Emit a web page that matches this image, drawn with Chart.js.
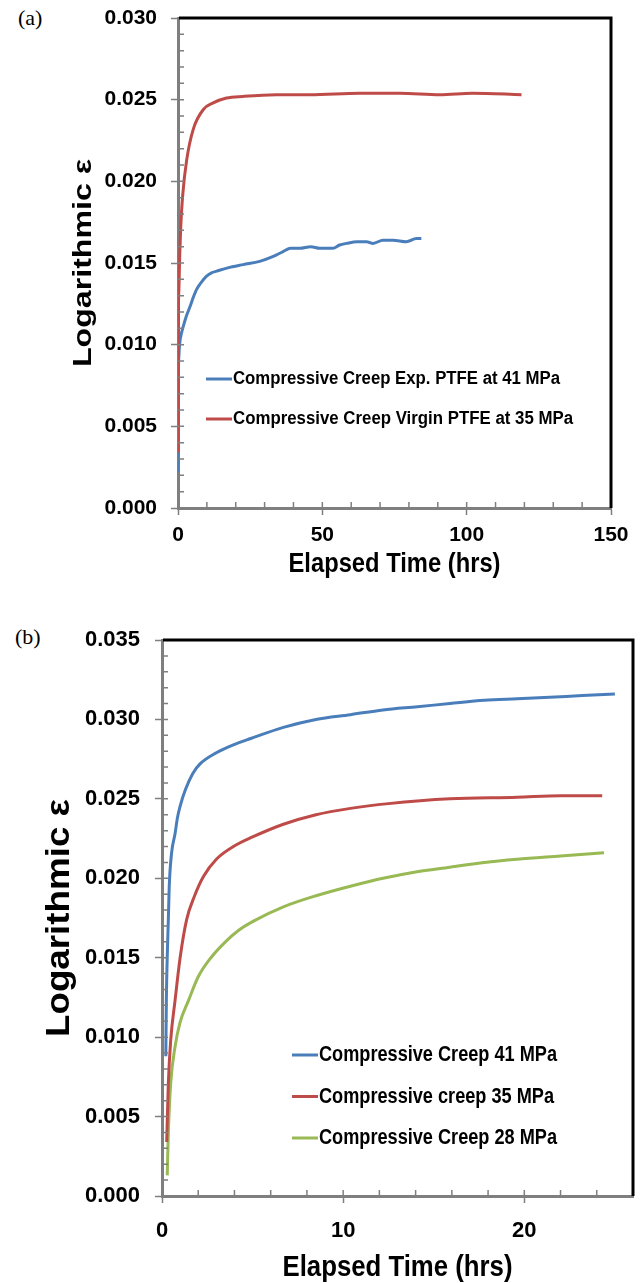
<!DOCTYPE html>
<html>
<head>
<meta charset="utf-8">
<script src="https://cdn.jsdelivr.net/npm/chart.js@4.4.1/dist/chart.umd.min.js"></script>
<style>
  body { margin: 0; background: #fff; }
  #wrap { position: relative; width: 640px; height: 1283px; }
  canvas { position: absolute; left: 0; }
  .tag { position: absolute; font-family: "Liberation Serif", "Times New Roman", serif; font-size: 22px; line-height: 22px; color: #000; }
</style>
</head>
<body>
<div id="wrap">
  <div class="tag" style="left:18px; top:7px;">(a)</div>
  <div class="tag" style="left:15px; top:626px;">(b)</div>
  <canvas id="chartA" width="640" height="600" style="top:0;"></canvas>
  <canvas id="chartB" width="640" height="683" style="top:600px;"></canvas>
</div>
<script>
// (a) exp PTFE 41 MPa vs virgin PTFE 35 MPa
const timeExp = [0, 0.05, 0.12, 0.3, 0.6, 1.2, 1.8, 3, 4.1, 5.3, 6.5, 8, 9.9, 11.6, 13.4, 17.2, 22.6, 28.3, 33, 36.4, 39, 42.2, 46, 49.1, 53.7, 56, 58.4, 62, 65.3, 67.6, 71, 74.5, 79.1, 82.6, 84.3];
const strainExp = [0.0022, 0.0050, 0.0080, 0.0093, 0.0101, 0.0107, 0.0111, 0.0118, 0.0123, 0.0129, 0.0134, 0.0138, 0.0142, 0.0144, 0.0145, 0.0147, 0.0149, 0.0151, 0.0154, 0.0157, 0.0159, 0.0159, 0.0160, 0.0159, 0.0159, 0.0161, 0.0162, 0.0163, 0.0163, 0.0162, 0.0164, 0.0164, 0.0163, 0.0165, 0.0165];
const timeVirgin = [0.05, 0.08, 0.12, 0.3, 0.6, 0.9, 1.6, 3, 5.3, 8.8, 12.2, 16.8, 22.6, 34, 45.7, 63, 76.8, 90.7, 102, 119];
const strainVirgin = [0.0034, 0.0080, 0.0115, 0.0133, 0.0155, 0.0170, 0.0191, 0.0213, 0.0232, 0.0244, 0.0248, 0.0251, 0.0252, 0.0253, 0.0253, 0.0254, 0.0254, 0.0253, 0.0254, 0.0253];

// (b) three stress levels
const time41 = [0.21, 0.24, 0.30, 0.35, 0.40, 0.53, 0.72, 0.85, 0.99, 1.3, 1.7, 2.1, 3.0, 3.94, 4.9, 6.7, 8.5, 10.4, 12.2, 14.1, 15.9, 17.8, 19.6, 21.4, 23.2, 25.0];
const strain41 = [0.0088, 0.0123, 0.0155, 0.0174, 0.0195, 0.0216, 0.0228, 0.0238, 0.0245, 0.0256, 0.0266, 0.0272, 0.0279, 0.0284, 0.0288, 0.0295, 0.0300, 0.0303, 0.0306, 0.0308, 0.0310, 0.0312, 0.0313, 0.0314, 0.0315, 0.0316];
const time35 = [0.26, 0.35, 0.48, 0.72, 1.0, 1.36, 1.8, 2.28, 3.0, 3.94, 5.0, 6.7, 8.5, 10.4, 12.5, 15.9, 19.6, 22.0, 24.3];
const strain35 = [0.0034, 0.0071, 0.0098, 0.0123, 0.0150, 0.0174, 0.0189, 0.0201, 0.0212, 0.0220, 0.0226, 0.0234, 0.0240, 0.0244, 0.0247, 0.0250, 0.0251, 0.0252, 0.0252];
const time28 = [0.29, 0.35, 0.48, 0.72, 0.99, 1.46, 2.0, 2.7, 3.5, 4.2, 5.05, 6.7, 8.5, 10.4, 12.2, 14, 15.9, 17.8, 19.6, 22, 24.4];
const strain28 = [0.0013, 0.0040, 0.0071, 0.0094, 0.0109, 0.0123, 0.0138, 0.0150, 0.0160, 0.0167, 0.0173, 0.0182, 0.0189, 0.0195, 0.0200, 0.0204, 0.0207, 0.0210, 0.0212, 0.0214, 0.0216];

// labelled (major) ticks
const xLabelsA = [0, 50, 100, 150];
const yLabelsA = [0, 0.005, 0.010, 0.015, 0.020, 0.025, 0.030];
const xLabelsB = [0, 10, 20];
const yLabelsB = [0, 0.005, 0.010, 0.015, 0.020, 0.025, 0.030, 0.035];

const FONT = '"Liberation Sans", Arial, sans-serif';
const AXIS_GRAY = '#7f7f7f';

function toPoints(xs, ys) {
  return xs.map((x, i) => ({ x: x, y: ys[i] }));
}

function isMajor(v, list) {
  return list.some(m => Math.abs(v - m) < 1e-7);
}

function stretchText(ctx, text, x, y, size, width, rot, align) {
  ctx.save();
  ctx.font = 'bold ' + size + 'px ' + FONT;
  ctx.textAlign = align || 'center';
  ctx.textBaseline = 'middle';
  ctx.translate(x, y);
  ctx.rotate(rot);
  const w = ctx.measureText(text).width;
  ctx.scale(width / w, 1);
  ctx.fillText(text, 0, 0);
  ctx.restore();
}

// inside tick marks, top/right frame, axis titles and legend
const frameAndText = {
  id: 'frameAndText',
  afterDraw(chart, args, o) {
    const ctx = chart.ctx;
    const a = chart.chartArea;
    const xs = chart.scales.x, ys = chart.scales.y;
    ctx.save();
    ctx.strokeStyle = AXIS_GRAY;
    ctx.lineWidth = 1.5;
    ctx.beginPath();
    xs.ticks.forEach(t => {
      const px = xs.getPixelForValue(t.value);
      ctx.moveTo(px, a.bottom);
      ctx.lineTo(px, a.bottom - 6);
    });
    ys.ticks.forEach(t => {
      const py = ys.getPixelForValue(t.value);
      ctx.moveTo(a.left, py);
      ctx.lineTo(a.left + 6, py);
    });
    ctx.stroke();

    ctx.strokeStyle = '#000';
    ctx.lineWidth = 3;
    ctx.beginPath();
    ctx.moveTo(a.left + 1, a.top);
    ctx.lineTo(a.right, a.top);
    ctx.lineTo(a.right, a.bottom);
    ctx.stroke();

    ctx.fillStyle = '#000';
    stretchText(ctx, o.xTitle, (a.left + a.right) / 2, o.xTitleY, o.xTitleSize, o.xTitleWidth, 0);
    stretchText(ctx, o.yTitle, o.yTitleX, (a.top + a.bottom) / 2, o.yTitleSize, o.yTitleLength, -Math.PI / 2);

    chart.data.datasets.forEach((ds, i) => {
      const y = o.legendY + i * o.legendGap;
      ctx.strokeStyle = ds.borderColor;
      ctx.lineWidth = 3;
      ctx.beginPath();
      ctx.moveTo(o.legendX, y);
      ctx.lineTo(o.legendX + 26, y);
      ctx.stroke();
      stretchText(ctx, ds.label, o.legendX + 27, y, o.legendSize, o.legendWidths[i], 0, 'left');
    });
    ctx.restore();
  }
};

function axis(min, max, step, labels, fmt, fontSize, pad, fitSize, horizontal) {
  return {
    type: 'linear',
    min: min,
    max: max,
    border: { display: true, color: AXIS_GRAY, width: 3 },
    grid: {
      drawOnChartArea: false,
      drawTicks: true,
      tickLength: 7,
      tickWidth: 1.5,
      tickColor: c => isMajor(c.tick.value, labels) ? AXIS_GRAY : 'rgba(0,0,0,0)'
    },
    ticks: {
      stepSize: step,
      autoSkip: false,
      maxRotation: 0,
      padding: pad,
      color: '#000',
      font: { family: FONT, size: fontSize, weight: 'bold' },
      callback: v => isMajor(v, labels) ? fmt(v) : ''
    },
    afterFit: s => {
      if (horizontal) {
        s.height = fitSize;
        s.paddingLeft = 0;
        s.paddingRight = 0;
      } else {
        s.width = fitSize;
        s.paddingTop = 0;
        s.paddingBottom = 0;
      }
    }
  };
}

function lineSet(label, xs, ys, color, order) {
  return {
    label: label,
    data: toPoints(xs, ys),
    borderColor: color,
    borderWidth: 3,
    pointRadius: 0,
    fill: false,
    cubicInterpolationMode: 'monotone',
    order: order
  };
}

Chart.defaults.font.family = FONT;

new Chart(document.getElementById('chartA'), {
  type: 'line',
  data: {
    datasets: [
      lineSet('Compressive Creep Exp. PTFE at 41 MPa', timeExp, strainExp, '#4a7ebb', 1),
      lineSet('Compressive Creep Virgin PTFE at 35 MPa', timeVirgin, strainVirgin, '#be4b48', 0)
    ]
  },
  options: {
    responsive: false,
    animation: false,
    devicePixelRatio: 1,
    layout: { padding: { left: 0, top: 18, right: 29, bottom: 0 } },
    plugins: {
      legend: { display: false },
      tooltip: { enabled: false },
      frameAndText: {
        xTitle: 'Elapsed Time (hrs)', xTitleY: 565, xTitleSize: 27, xTitleWidth: 212,
        yTitle: 'Logarithmic ε', yTitleX: 84, yTitleSize: 26, yTitleLength: 208,
        legendX: 206, legendY: 379, legendGap: 40, legendSize: 18, legendWidths: [327, 340]
      }
    },
    scales: {
      x: axis(0, 150, 10, xLabelsA, v => String(v), 21, 8, 92, true),
      y: axis(0, 0.030, 0.001, yLabelsA, v => v.toFixed(3), 21, 14, 178, false)
    }
  },
  plugins: [frameAndText]
});

new Chart(document.getElementById('chartB'), {
  type: 'line',
  data: {
    datasets: [
      lineSet('Compressive Creep 41 MPa', time41, strain41, '#4a7ebb', 0),
      lineSet('Compressive creep 35 MPa', time35, strain35, '#be4b48', 1),
      lineSet('Compressive Creep 28 MPa', time28, strain28, '#98b954', 2)
    ]
  },
  options: {
    responsive: false,
    animation: false,
    devicePixelRatio: 1,
    layout: { padding: { left: 0, top: 40, right: 7, bottom: 0 } },
    plugins: {
      legend: { display: false },
      tooltip: { enabled: false },
      frameAndText: {
        xTitle: 'Elapsed Time (hrs)', xTitleY: 668, xTitleSize: 29, xTitleWidth: 230,
        yTitle: 'Logarithmic ε', yTitleX: 60, yTitleSize: 34, yTitleLength: 238,
        legendX: 292, legendY: 455, legendGap: 41.5, legendSize: 22, legendWidths: [238, 235, 238]
      }
    },
    scales: {
      x: axis(0, 26, 2, xLabelsB, v => String(v), 22, 15, 87, true),
      y: axis(0, 0.035, 0.001, yLabelsB, v => v.toFixed(3), 22, 15, 162, false)
    }
  },
  plugins: [frameAndText]
});
</script>
</body>
</html>
